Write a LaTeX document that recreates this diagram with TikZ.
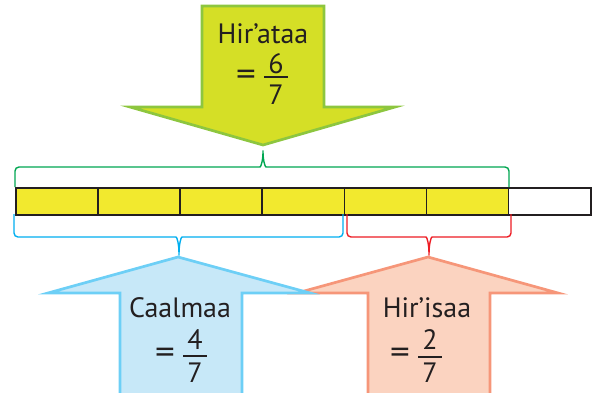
\documentclass[tikz,border=0pt]{standalone}
\usepackage{graphicx}
\usepackage{fontspec}
\setmainfont{PT Sans}
\definecolor{ink}{HTML}{231F20}
\definecolor{barY}{HTML}{F2E92E}
\definecolor{topFill}{HTML}{D5DF26}
\definecolor{topLine}{HTML}{8DC63F}
\definecolor{bFill}{HTML}{C7E8F8}
\definecolor{bLine}{HTML}{6DCFF6}
\definecolor{rFill}{HTML}{FBD3C0}
\definecolor{rLine}{HTML}{F69679}
\definecolor{gBrace}{HTML}{00A651}
\definecolor{bBrace}{HTML}{00AEEF}
\definecolor{rBrace}{HTML}{ED1C24}
\newcommand{\bigeq}{\scalebox{1.4}[1.2]{=}}
\tikzset{
  lbl/.style={inner sep=0pt, text=ink, font=\fontsize{28}{32}\selectfont},
  bigarrow/.style={line width=2.7pt, line join=miter},
  bracepath/.style={line width=1.4pt, rounded corners=4pt},
  fracline/.style={ink, line width=1.3pt},
  cell/.style={draw=ink, line width=1.6pt, minimum width=82.14pt, minimum height=27pt, inner sep=0pt, anchor=north west}
}
\begin{document}
\begin{tikzpicture}[x=1pt,y=-1pt]
\useasboundingbox (0,0) rectangle (593,392);
\clip (0,0) rectangle (593,392);

% bar
\foreach \i in {0,...,5} {
  \node[cell, fill=barY] (c\i) at ({15+\i*82.14},187) {};
}
\node[cell, fill=white] (c6) at ({15+6*82.14},187) {};

% braces
\draw[bracepath, gBrace] (15,187) -- (15,167) -- (256,167)
  .. controls (261,167) and (263,160) .. (263,148)
  .. controls (263,160) and (265,167) .. (270,167) -- (509,167) -- (509,187);
\draw[bracepath, bBrace] (14,214) -- (14,237) -- (172,237)
  .. controls (177,237) and (179,244) .. (179,258)
  .. controls (179,244) and (181,237) .. (186,237) -- (343,237) -- (343,214);
\draw[bracepath, rBrace] (347,214) -- (347,237) -- (422,237)
  .. controls (427,237) and (429,244) .. (429,258)
  .. controls (429,244) and (431,237) .. (436,237) -- (511,237) -- (511,214);

% top arrow
\draw[bigarrow, draw=topLine, fill=topFill] (202,6) -- (324,6) -- (324,107) -- (395,107)
  -- (263,145) -- (130,107) -- (202,107) -- cycle;
% red arrow
\draw[bigarrow, draw=rLine, fill=rFill] (428,257) -- (558,293) -- (490,293) -- (490,400)
  -- (368,400) -- (368,293) -- (297,293) -- cycle;
% blue arrow
\draw[bigarrow, draw=bLine, fill=bFill] (178,257) -- (310,293) -- (242,293) -- (242,400)
  -- (120,400) -- (120,293) -- (48,293) -- cycle;

% top labels
\node[lbl, anchor=base] (t1) at (263,43) {Hir’ataa};
\node[lbl] (e1) at (246,78) {\bigeq};
\node[lbl] (n1) at (276,64) {6};
\draw[fracline] (264,77) -- (288,77);
\node[lbl] (d1) at (276,95) {7};

% blue labels
\node[lbl, anchor=base] (t2) at (180,317) {Caalmaa};
\node[lbl] (e2) at (165,356) {\bigeq};
\node[lbl] (n2) at (195,340) {4};
\draw[fracline] (183,356) -- (207,356);
\node[lbl] (d2) at (195,373) {7};

% red labels
\node[lbl, anchor=base] (t3) at (427,317) {Hir’isaa};
\node[lbl] (e3) at (400,356) {\bigeq};
\node[lbl] (n3) at (430,340) {2};
\draw[fracline] (418,357) -- (442,357);
\node[lbl] (d3) at (430,373) {7};
\end{tikzpicture}
\end{document}
